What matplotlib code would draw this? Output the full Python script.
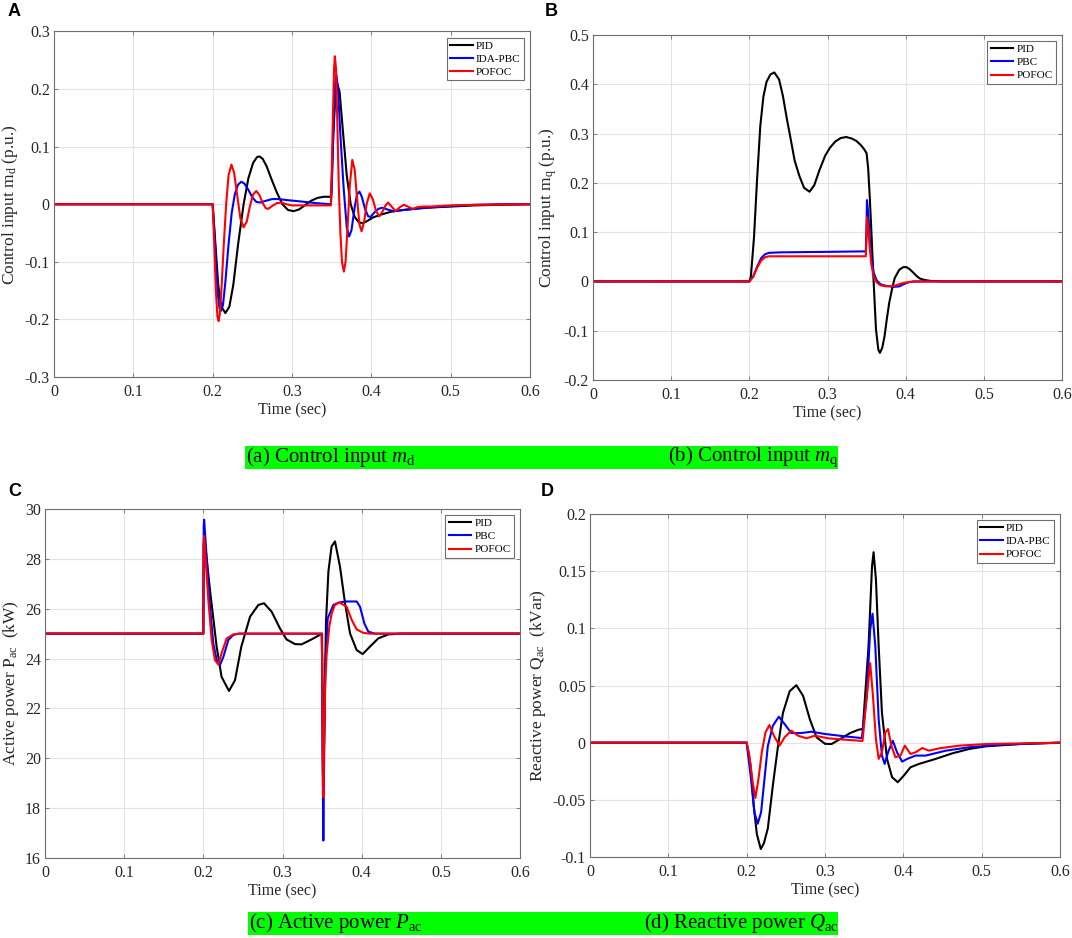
import matplotlib
matplotlib.use("Agg")
import matplotlib.pyplot as plt
from matplotlib.patches import Rectangle

plt.rcParams['font.family'] = ['Liberation Serif', 'DejaVu Serif']
plt.rcParams['mathtext.fontset'] = 'custom'
plt.rcParams['mathtext.rm'] = 'Liberation Serif'
plt.rcParams['mathtext.it'] = 'Liberation Serif:italic'
plt.rcParams['mathtext.bf'] = 'Liberation Serif:bold'

# ---------------- Panel A: control input md ----------------
a_pid_t = [0, 0.2, 0.203, 0.207, 0.211, 0.216, 0.221, 0.226, 0.232, 0.239, 0.245, 0.251, 0.256, 0.259,
           0.263, 0.268, 0.274, 0.281, 0.288, 0.295, 0.302, 0.309, 0.316, 0.324, 0.332, 0.340, 0.349,
           0.350, 0.352, 0.355, 0.357, 0.360, 0.364, 0.369, 0.374, 0.379, 0.384, 0.389, 0.395, 0.402,
           0.412, 0.425, 0.44, 0.455, 0.47, 0.5, 0.53, 0.56, 0.6]
a_pid_v = [0, 0, -0.06, -0.14, -0.178, -0.189, -0.178, -0.14, -0.07, 0.0, 0.045, 0.072, 0.082, 0.083,
           0.079, 0.066, 0.044, 0.02, 0.0, -0.01, -0.012, -0.009, -0.002, 0.006, 0.011, 0.013, 0.013,
           0.04, 0.12, 0.195, 0.21, 0.195, 0.13, 0.05, 0.0, -0.022, -0.031, -0.033, -0.029, -0.023,
           -0.018, -0.013, -0.010, -0.008, -0.006, -0.004, -0.002, -0.001, 0.0]
a_ida_t = [0, 0.2, 0.203, 0.206, 0.2085, 0.2105, 0.213, 0.216, 0.220, 0.224, 0.228, 0.232, 0.236, 0.240,
           0.245, 0.250, 0.255, 0.260, 0.267, 0.275, 0.283, 0.295, 0.31, 0.33, 0.349, 0.350, 0.352, 0.354,
           0.356, 0.358, 0.361, 0.365, 0.369, 0.372, 0.375, 0.379, 0.382, 0.385, 0.388, 0.392, 0.396,
           0.399, 0.404, 0.409, 0.414, 0.42, 0.428, 0.44, 0.46, 0.48, 0.5, 0.53, 0.56, 0.6]
a_ida_v = [0, 0, -0.07, -0.15, -0.18, -0.185, -0.175, -0.135, -0.07, -0.015, 0.018, 0.034, 0.039, 0.036,
           0.025, 0.012, 0.004, 0.003, 0.006, 0.009, 0.009, 0.007, 0.005, 0.002, 0.0, 0.02, 0.12, 0.205,
           0.224, 0.2, 0.12, 0.03, -0.04, -0.056, -0.045, -0.005, 0.017, 0.022, 0.013, -0.008, -0.021,
           -0.022, -0.014, -0.008, -0.006, -0.009, -0.012, -0.010, -0.007, -0.005, -0.003, -0.001, 0.0, 0.0]
a_pof_t = [0, 0.2, 0.202, 0.204, 0.206, 0.2076, 0.209, 0.211, 0.214, 0.217, 0.220, 0.2236, 0.227, 0.231,
           0.235, 0.239, 0.243, 0.247, 0.251, 0.255, 0.259, 0.263, 0.267, 0.27, 0.275, 0.281, 0.287, 0.293,
           0.30, 0.32, 0.349, 0.350, 0.3515, 0.353, 0.354, 0.3555, 0.357, 0.359, 0.361, 0.363, 0.3654,
           0.3675, 0.370, 0.373, 0.376, 0.379, 0.382, 0.385, 0.3877, 0.391, 0.394, 0.398, 0.402, 0.406,
           0.41, 0.414, 0.418, 0.421, 0.425, 0.4306, 0.436, 0.441, 0.446, 0.452, 0.458, 0.465, 0.475,
           0.5, 0.53, 0.6]
a_pof_v = [0, 0, -0.07, -0.15, -0.195, -0.203, -0.19, -0.15, -0.07, 0.0, 0.05, 0.069, 0.055, 0.015,
           -0.025, -0.040, -0.03, -0.003, 0.017, 0.023, 0.016, 0.002, -0.007, -0.008, -0.003, 0.002, 0.003,
           0.0, -0.002, -0.002, -0.002, 0.05, 0.15, 0.235, 0.257, 0.235, 0.15, 0.03, -0.05, -0.1, -0.117,
           -0.1, -0.04, 0.035, 0.077, 0.06, 0.01, -0.035, -0.047, -0.03, 0.0, 0.019, 0.008, -0.012,
           -0.021, -0.013, -0.002, 0.003, -0.003, -0.012, -0.005, -0.001, -0.004, -0.008, -0.005, -0.004,
           -0.004, -0.002, -0.001, 0.0]

# ---------------- Panel B: control input mq ----------------
b_pid_t = [0, 0.2, 0.202, 0.206, 0.210, 0.214, 0.218, 0.222, 0.227, 0.232, 0.238, 0.243, 0.248, 0.253,
           0.258, 0.264, 0.270, 0.277, 0.283, 0.290, 0.297, 0.303, 0.31, 0.317, 0.324, 0.331, 0.337, 0.343,
           0.347, 0.350, 0.352, 0.354, 0.356, 0.359, 0.362, 0.365, 0.367, 0.370, 0.373, 0.376, 0.379,
           0.383, 0.386, 0.392, 0.397, 0.401, 0.405, 0.409, 0.414, 0.418, 0.424, 0.432, 0.45, 0.6]
b_pid_v = [0, 0, 0.01, 0.09, 0.21, 0.315, 0.375, 0.405, 0.42, 0.424, 0.41, 0.376, 0.33, 0.288,
           0.245, 0.214, 0.19, 0.182, 0.195, 0.227, 0.255, 0.271, 0.284, 0.291, 0.293, 0.29, 0.285, 0.276,
           0.268, 0.26, 0.23, 0.173, 0.106, 0.0, -0.097, -0.138, -0.145, -0.135, -0.111, -0.075, -0.043,
           -0.012, 0.007, 0.024, 0.029, 0.029, 0.025, 0.019, 0.011, 0.006, 0.003, 0.001, 0.0, 0.0]
b_pbc_t = [0, 0.2, 0.205, 0.21, 0.215, 0.22, 0.225, 0.24, 0.3, 0.349, 0.350, 0.3505, 0.352, 0.354, 0.356,
           0.359, 0.363, 0.368, 0.375, 0.385, 0.392, 0.397, 0.403, 0.41, 0.6]
b_pbc_v = [0, 0, 0.01, 0.03, 0.047, 0.055, 0.058, 0.059, 0.06, 0.061, 0.12, 0.165, 0.14, 0.09, 0.05,
           0.018, 0.002, -0.006, -0.009, -0.011, -0.01, -0.006, -0.002, 0.0, 0.0]
b_pof_t = [0, 0.2, 0.205, 0.21, 0.215, 0.22, 0.225, 0.24, 0.349, 0.350, 0.3505, 0.352, 0.354, 0.356,
           0.359, 0.363, 0.368, 0.375, 0.385, 0.395, 0.405, 0.42, 0.6]
b_pof_v = [0, 0, 0.01, 0.028, 0.042, 0.049, 0.051, 0.051, 0.051, 0.09, 0.13, 0.11, 0.07, 0.035,
           0.01, -0.002, -0.008, -0.01, -0.009, -0.004, -0.001, 0.0, 0.0]

# ---------------- Panel C: active power Pac ----------------
c_pid_t = [0, 0.2, 0.2005, 0.2015, 0.2084, 0.2168, 0.223, 0.2324, 0.24, 0.248, 0.259, 0.2695, 0.2766,
           0.2863, 0.2968, 0.305, 0.3158, 0.324, 0.3368, 0.3495, 0.350, 0.3505, 0.351, 0.3515, 0.352,
           0.3535, 0.355, 0.358, 0.362, 0.3663, 0.3726, 0.379, 0.3853, 0.3937, 0.4013, 0.4105, 0.421,
           0.4337, 0.45, 0.6]
c_pid_v = [25, 25, 28.6, 28.8, 26.75, 24.48, 23.27, 22.7, 23.13, 24.48, 25.68, 26.15, 26.22,
           25.88, 25.21, 24.77, 24.58, 24.57, 24.77, 24.99, 25.0, 22.0, 19.5, 18.6, 19.5,
           23.0, 25.5, 27.5, 28.5, 28.7, 27.69, 26.22, 25.01, 24.34, 24.18, 24.48, 24.81,
           24.97, 25.0, 25.0]
c_pbc_t = [0, 0.2, 0.2005, 0.201, 0.2084, 0.2126, 0.2168, 0.221, 0.2253, 0.2316, 0.2379, 0.245, 0.3495,
           0.350, 0.3508, 0.3516, 0.3524, 0.354, 0.357, 0.3642, 0.3705, 0.38, 0.3937, 0.3979, 0.4034,
           0.4084, 0.4168, 0.6]
c_pbc_v = [25, 25, 29.3, 29.57, 26.08, 24.61, 23.94, 23.74, 24.07, 24.75, 24.95, 25.0, 25.0,
           24.0, 19.5, 16.7, 19.5, 23.5, 25.6, 26.15, 26.24, 26.29, 26.29, 26.08, 25.41,
           25.08, 25.0, 25.0]
c_pof_t = [0, 0.2, 0.2005, 0.201, 0.2063, 0.2105, 0.2147, 0.219, 0.223, 0.2295, 0.2379, 0.245, 0.3495,
           0.350, 0.3508, 0.3516, 0.3524, 0.354, 0.3558, 0.3592, 0.3621, 0.366, 0.3718, 0.381, 0.3874,
           0.3937, 0.4021, 0.41, 0.6]
c_pof_v = [25, 25, 28.7, 28.92, 26.35, 24.75, 23.94, 23.76, 24.21, 24.81, 24.97, 25.0, 25.0,
           24.2, 20.5, 18.44, 20.5, 23.0, 24.2, 25.3, 25.8, 26.15, 26.25, 26.08, 25.55,
           25.17, 25.03, 25.0, 25.0]

# ---------------- Panel D: reactive power Qac ----------------
d_pid_t = [0, 0.2, 0.205, 0.209, 0.213, 0.218, 0.222, 0.227, 0.2334, 0.24, 0.2463, 0.2549, 0.2634,
           0.272, 0.2806, 0.2892, 0.3, 0.3084, 0.319, 0.332, 0.3427, 0.3483, 0.349, 0.3556, 0.36, 0.362,
           0.365, 0.3685, 0.3727, 0.3792, 0.3856, 0.3929, 0.4006, 0.4092, 0.4199, 0.4413, 0.4627,
           0.4842, 0.5056, 0.5485, 0.6]
d_pid_v = [0, 0, -0.02, -0.055, -0.08, -0.093, -0.088, -0.075, -0.0375, -0.003, 0.026, 0.045, 0.0503,
           0.041, 0.0206, 0.0047, -0.001, -0.0012, 0.003, 0.0084, 0.0113, 0.012, 0.019, 0.0846, 0.154,
           0.1666, 0.143, 0.0846, 0.026, -0.0142, -0.0302, -0.0346, -0.0288, -0.0215, -0.0186, -0.0142,
           -0.0093, -0.0055, -0.0032, -0.0012, 0.0]
d_ida_t = [0, 0.2, 0.2056, 0.2099, 0.2141, 0.2184, 0.2227, 0.227, 0.2334, 0.2411, 0.2484, 0.257, 0.2699,
           0.2827, 0.3, 0.3256, 0.347, 0.3534, 0.3577, 0.3607, 0.3642, 0.3685, 0.3727, 0.3762, 0.3805,
           0.3865, 0.392, 0.3985, 0.4049, 0.4156, 0.4285, 0.4542, 0.4842, 0.527, 0.6]
d_ida_v = [0, 0, -0.032, -0.061, -0.0709, -0.061, -0.032, -0.003, 0.0148, 0.0227, 0.0163, 0.0084, 0.0084,
           0.0096, 0.0076, 0.0055, 0.004, 0.041, 0.099, 0.1128, 0.0846, 0.0206, -0.0113, -0.0186, -0.0084,
           0.0017, -0.0084, -0.0166, -0.0142, -0.0113, -0.0113, -0.007, -0.004, -0.0017, 0.0]
d_pof_t = [0, 0.2, 0.2034, 0.2077, 0.2111, 0.215, 0.2193, 0.224, 0.2291, 0.2347, 0.242, 0.2484, 0.257,
           0.2656, 0.2763, 0.287, 0.3042, 0.3256, 0.3479, 0.3534, 0.3577, 0.3612, 0.365, 0.3685, 0.3727,
           0.377, 0.3805, 0.3847, 0.3899, 0.3963, 0.4019, 0.4092, 0.4156, 0.4242, 0.4327, 0.4456, 0.4713,
           0.5056, 0.6]
d_pof_v = [0, 0, -0.011, -0.0346, -0.0485, -0.032, -0.0084, 0.009, 0.0154, 0.0061, -0.0026, 0.0047, 0.0105,
           0.0061, 0.0038, 0.0061, 0.0038, 0.0026, 0.0015, 0.041, 0.0695, 0.041, 0.0032, -0.0142, -0.0084,
           0.009, 0.0119, -0.0026, -0.0128, -0.0113, -0.0026, -0.0099, -0.0084, -0.0047, -0.007, -0.005,
           -0.0026, -0.0012, 0.0]

xticks = [0, 0.1, 0.2, 0.3, 0.4, 0.5, 0.6]
xtick_labels = ['0', '0.1', '0.2', '0.3', '0.4', '0.5', '0.6']

W, H = 1072, 938
fig = plt.figure(figsize=(W / 100, H / 100), dpi=100)


def px_axes(l, t, r, b):
    return fig.add_axes([l / W, 1 - b / H, (r - l) / W, (b - t) / H])


def style(ax, ylim, yticks, ylabel, legend_labels):
    ax.set_xlim(0, 0.6)
    ax.set_ylim(*ylim)
    ax.set_xticks(xticks)
    ax.set_xticklabels(xtick_labels)
    ax.set_yticks(yticks)
    ax.set_yticklabels([('%g' % v) for v in yticks])
    ax.grid(True, color='#e3e3e3', lw=0.8)
    ax.set_axisbelow(True)
    for s in ax.spines.values():
        s.set_color('#6e6e6e')
        s.set_linewidth(0.8)
    ax.tick_params(direction='in', length=3, width=0.6, color='#6e6e6e', labelsize=11.5,
                   top=True, right=True, labelcolor='#262626')
    ax.tick_params(axis='x', pad=5)
    ax.tick_params(axis='y', pad=3)
    ax.set_xlabel('Time (sec)', fontsize=11.5, color='#262626', labelpad=2)
    ax.set_ylabel(ylabel, fontsize=12.5, color='#262626', labelpad=3)
    leg = ax.legend(legend_labels, loc='upper right', fontsize=8, frameon=True, fancybox=False,
                    edgecolor='#6e6e6e', framealpha=1, handlelength=2.0, handletextpad=0.3,
                    labelspacing=0.3, borderpad=0.3, borderaxespad=0.55)
    leg.get_frame().set_linewidth(0.8)


lw = 1.5
# A
axA = px_axes(54, 31.5, 530, 377)
axA.plot(a_pid_t, a_pid_v, color='black', lw=lw)
axA.plot(a_ida_t, a_ida_v, color='#0000ff', lw=lw)
axA.plot(a_pof_t, a_pof_v, color='#ff0000', lw=lw)
style(axA, (-0.3, 0.3), [-0.3, -0.2, -0.1, 0, 0.1, 0.2, 0.3],
      'Control input m$_\\mathregular{d}$ (p.u.)', ['PID', 'IDA-PBC', 'POFOC'])

# B
axB = px_axes(593, 35, 1062, 380)
axB.plot(b_pid_t, b_pid_v, color='black', lw=lw)
axB.plot(b_pbc_t, b_pbc_v, color='#0000ff', lw=lw)
axB.plot(b_pof_t, b_pof_v, color='#ff0000', lw=lw)
style(axB, (-0.2, 0.5), [-0.2, -0.1, 0, 0.1, 0.2, 0.3, 0.4, 0.5],
      'Control input m$_\\mathregular{q}$ (p.u.)', ['PID', 'PBC', 'POFOC'])

# C
axC = px_axes(45, 509, 520, 858)
axC.plot(c_pid_t, c_pid_v, color='black', lw=lw)
axC.plot(c_pbc_t, c_pbc_v, color='#0000ff', lw=lw)
axC.plot(c_pof_t, c_pof_v, color='#ff0000', lw=lw)
style(axC, (16, 30), [16, 18, 20, 22, 24, 26, 28, 30],
      'Active power P$_\\mathregular{ac}$  (kW)', ['PID', 'PBC', 'POFOC'])

# D
axD = px_axes(590, 514, 1060, 857)
axD.plot(d_pid_t, d_pid_v, color='black', lw=lw)
axD.plot(d_ida_t, d_ida_v, color='#0000ff', lw=lw)
axD.plot(d_pof_t, d_pof_v, color='#ff0000', lw=lw)
style(axD, (-0.1, 0.2), [-0.1, -0.05, 0, 0.05, 0.1, 0.15, 0.2],
      'Reactive power Q$_\\mathregular{ac}$  (kVar)', ['PID', 'IDA-PBC', 'POFOC'])

# panel letters
for lab, x, y in [('A', 8, 11), ('B', 545, 11), ('C', 8, 491), ('D', 541, 491)]:
    fig.text(x / W, 1 - y / H, lab, fontsize=13, fontweight='bold',
             family=['Liberation Sans', 'DejaVu Sans'], va='center', ha='left')

# green captions
for (l, t, r, b) in [(245, 446, 838, 469), (248, 912, 838, 935)]:
    fig.patches.append(Rectangle((l / W, 1 - b / H), (r - l) / W, (b - t) / H,
                                 transform=fig.transFigure, facecolor='#00ff00', edgecolor='none',
                                 zorder=0))
cap_fs = 15
fig.text(246 / W, 1 - 457 / H, '(a) Control input $m_\\mathrm{d}$', fontsize=cap_fs, va='center', ha='left')
fig.text(839 / W, 1 - 457 / H, '(b) Control input $m_\\mathrm{q}$', fontsize=cap_fs, va='center', ha='right')
fig.text(249 / W, 1 - 923 / H, '(c) Active power $P_\\mathrm{ac}$', fontsize=cap_fs, va='center', ha='left')
fig.text(839 / W, 1 - 923 / H, '(d) Reactive power $Q_\\mathrm{ac}$', fontsize=cap_fs, va='center', ha='right')

fig.savefig('out.png', dpi=100)
